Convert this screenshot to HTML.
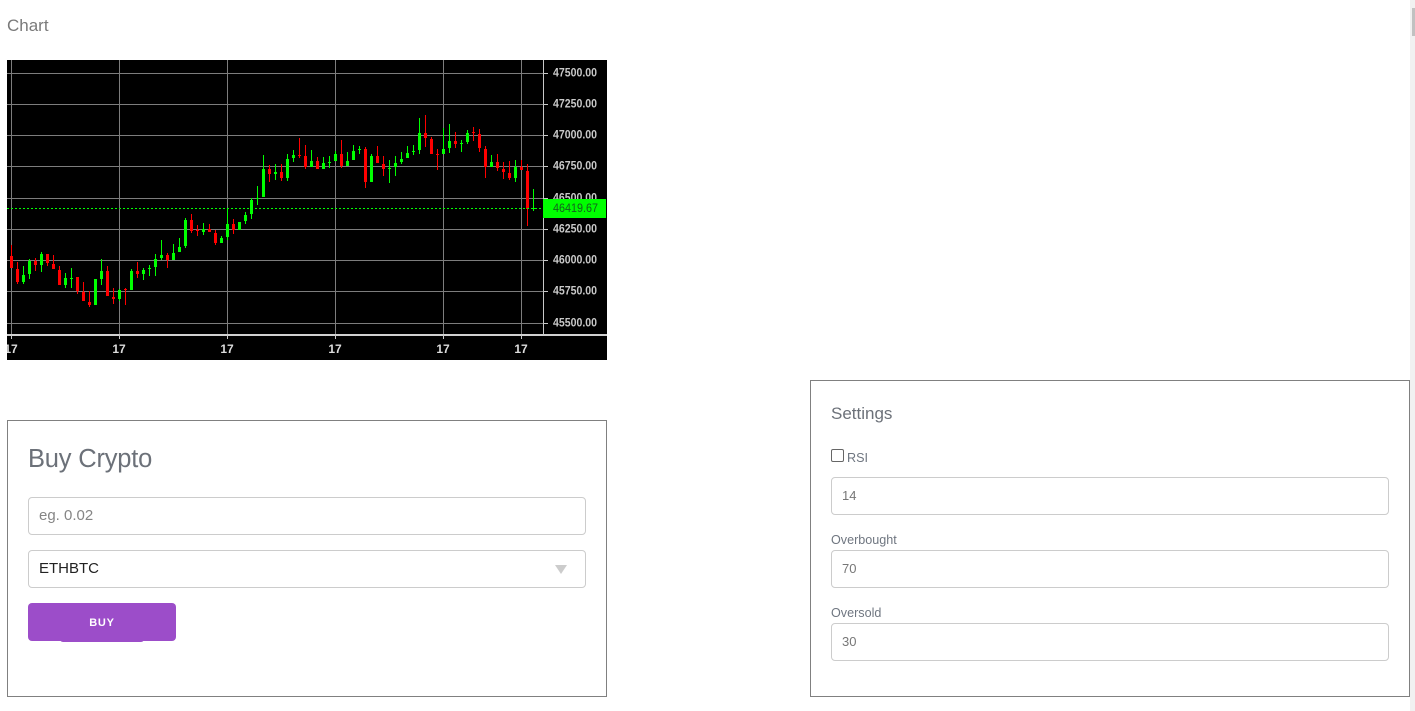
<!DOCTYPE html>
<html lang="en">
<head>
<meta charset="utf-8">
<title>Chart</title>
<style>
html,body{margin:0;padding:0;width:1415px;height:711px;overflow:hidden;background:#fff;font-family:"Liberation Sans",sans-serif;}
.abs{position:absolute;}
.box{position:absolute;border:1px solid #808080;box-sizing:border-box;background:#fff;}
.field{position:absolute;box-sizing:border-box;height:38px;border:1px solid #ccc;border-radius:4px;background:#fff;font-family:"Liberation Sans",sans-serif;font-size:13px;color:#777;padding:0 10px 2px 10px;outline:none;margin:0;}
.field::placeholder{color:#858585;opacity:1;}
.lbl{position:absolute;font-size:12.6px;color:#6f7680;white-space:nowrap;line-height:14px;}
svg text{font-family:"Liberation Sans",sans-serif;}
</style>
</head>
<body>
<div class="abs" style="left:7px;top:15px;font-size:17px;line-height:21px;color:#7a7a7a;">Chart</div>

<svg id="chart" class="abs" style="left:7px;top:60px;" width="600" height="300" viewBox="7 60 600 300" xmlns="http://www.w3.org/2000/svg">
  <rect x="7" y="60" width="600" height="300" fill="#000"/>
  <g id="grid"></g>
  <g id="candles"></g>
  <g id="axes"></g>
</svg>

<div class="box" style="left:7px;top:420px;width:600px;height:277px;"></div>
<div class="abs" style="left:28px;top:443px;font-size:25.5px;line-height:32px;color:#6c7179;letter-spacing:-0.2px;">Buy Crypto</div>
<input class="field" style="left:28px;top:497px;width:558px;font-size:15px;padding-bottom:1px;" placeholder="eg. 0.02">
<div class="field" style="left:28px;top:550px;width:558px;font-size:15px;line-height:35px;color:#222;">ETHBTC</div>
<div class="abs" style="left:555px;top:565px;width:0;height:0;border-left:6.5px solid transparent;border-right:6.5px solid transparent;border-top:9px solid #ccc;"></div>
<div class="abs" style="left:60px;top:636px;width:84px;height:6px;background:#9c4dc9;border-radius:0 0 3px 3px;"></div>
<div class="abs" style="left:28px;top:603px;width:148px;height:38px;background:#9c4dc9;border-radius:4px;color:#fff;font-size:11px;font-weight:bold;letter-spacing:0.8px;text-align:center;line-height:41px;">BUY</div>

<div class="box" style="left:810px;top:380px;width:600px;height:317px;"></div>
<div class="abs" style="left:831px;top:403px;font-size:17px;line-height:21px;color:#6c7179;">Settings</div>
<div class="abs" style="left:831px;top:449px;width:13px;height:13px;box-sizing:border-box;border:1px solid #666;border-radius:2px;background:#fff;"></div>
<div class="lbl" style="left:847px;top:451px;">RSI</div>
<input class="field" style="left:831px;top:477px;width:558px;" value="14">
<div class="lbl" style="left:831px;top:533px;">Overbought</div>
<input class="field" style="left:831px;top:550px;width:558px;" value="70">
<div class="lbl" style="left:831px;top:606px;">Oversold</div>
<input class="field" style="left:831px;top:623px;width:558px;" value="30">

<div class="abs" style="left:1410px;top:0;width:5px;height:711px;background:#f1f1f1;"></div>
<div class="abs" style="left:1412px;top:8px;width:3px;height:28px;background:#c1c1c1;"></div>

<script>
const opens = [46032,45928,45824,45888,45992,45960,46048,45968,45920,45800,45848,45864,45744,45664,45640,45848,45912,45704,45688,45768,45760,45912,45888,45928,45944,46016,46040,46000,46064,46112,46320,46240,46224,46248,46216,46136,46184,46288,46240,46312,46368,46488,46504,46728,46688,46704,46656,46816,46840,46832,46744,46792,46728,46776,46792,46848,46752,46800,46880,46888,46624,46832,46768,46728,46744,46784,46816,46864,46880,47016,46968,46848,46848,46896,46952,46928,46944,47024,47008,46888,46744,46784,46728,46696,46656,46744,46712,46416];
const highs = [46120,45984,45952,46008,46016,46064,46048,46040,45952,45896,45936,45864,45824,45752,45848,46008,45952,45776,45768,45776,45928,45984,45936,45960,46048,46160,46056,46128,46176,46336,46368,46280,46296,46288,46240,46192,46416,46328,46304,46384,46496,46592,46840,46760,46768,46768,46848,46880,46976,46920,46880,46824,46824,46832,46872,46960,46864,46920,46912,46904,46848,46912,46832,46800,46832,46864,46912,46920,47136,47160,46984,46888,47056,47088,47024,46960,47040,47064,47048,46912,46840,46848,46784,46792,46800,46800,46768,46568];
const lows = [45936,45808,45808,45848,45912,45904,45952,45928,45800,45776,45776,45728,45672,45624,45640,45800,45712,45648,45672,45640,45760,45856,45840,45872,45872,46000,45936,46000,46064,46096,46216,46192,46200,46224,46120,46136,46160,46208,46240,46288,46328,46440,46504,46624,46640,46632,46632,46784,46816,46728,46744,46728,46728,46736,46792,46736,46752,46800,46848,46576,46624,46776,46672,46616,46672,46768,46816,46840,46848,46904,46848,46720,46848,46856,46896,46864,46928,46952,46864,46656,46744,46712,46648,46640,46624,46720,46272,46392];
const closes = [45936,45824,45880,45992,45960,46048,45976,45928,45800,45856,45856,45752,45672,45640,45848,45912,45712,45688,45760,45760,45912,45888,45920,45936,46008,46040,46000,46056,46104,46320,46232,46232,46248,46224,46136,46176,46288,46240,46304,46360,46480,46496,46728,46688,46704,46656,46808,46840,46832,46744,46792,46728,46776,46784,46848,46752,46792,46872,46888,46624,46832,46776,46728,46736,46776,46808,46856,46872,47016,46976,46848,46840,46888,46952,46928,46936,47016,47016,46896,46744,46784,46736,46704,46656,46744,46720,46408,46419.67];
const priceTicks = [47500,47250,47000,46750,46500,46250,46000,45750,45500];
const timeTickIndexes = [0,18,36,54,72,85];
const timeTickLabels = ["17","17","17","17","17","17"];
const lastPrice = 46419.67;

const NS = "http://www.w3.org/2000/svg";
const gridColor = "#7d7d7d";
const upColor = "#00ff00";
const downColor = "#ff0000";
function yScale(v){ return 260 - (v - 46000) / 8; }
function xScale(i){ return 11 + 6 * i; }
function make(tag, attrs, parent){
  const el = document.createElementNS(NS, tag);
  for (const k in attrs) el.setAttribute(k, attrs[k]);
  parent.appendChild(el);
  return el;
}
const grid = document.getElementById("grid");
const candles = document.getElementById("candles");
const axes = document.getElementById("axes");

priceTicks.forEach(function(t){
  const y = Math.round(yScale(t));
  const g = make("rect", {x:7, y:y, width:536, height:1, fill:gridColor}, grid);
  
  
});
timeTickIndexes.forEach(function(i){
  const g = make("rect", {x:xScale(i), y:60, width:1, height:275, fill:gridColor}, grid);
  
  
});

opens.forEach(function(o, i){
  const c = closes[i];
  const col = c >= o ? upColor : downColor;
  const g = make("g", {}, candles);
  
  
  const yh = Math.round(yScale(highs[i]));
  const yl = Math.round(yScale(lows[i]));
  const yt = Math.round(yScale(Math.max(o, c)));
  const yb = Math.round(yScale(Math.min(o, c)));
  make("rect", {x:xScale(i), y:yh, width:1, height:Math.max(1, yl - yh), fill:col}, g);
  make("rect", {x:xScale(i) - 1, y:yt, width:3, height:Math.max(1, yb - yt), fill:col}, g);
});

const yLast = Math.round(yScale(lastPrice));
const dash = make("line", {x1:7, x2:543, y1:yLast + 0.5, y2:yLast + 0.5, stroke:upColor, "stroke-width":1, "stroke-dasharray":"2 2"}, axes);



const yAxisLine = make("rect", {x:543, y:60, width:1, height:275, fill:"#c8c8c8"}, axes);


const xAxisLine = make("rect", {x:7, y:334, width:600, height:2, fill:"#d0d0d0"}, axes);



priceTicks.forEach(function(t){
  const y = Math.round(yScale(t));
  const m = make("rect", {x:543, y:y, width:5, height:1, fill:"#c8c8c8"}, axes);
  
  
  const lab = make("text", {x:553, y:y + 3.5, fill:"#c8c8c8", "font-size":"11.5", "font-weight":"bold", textLength:"44", lengthAdjust:"spacingAndGlyphs"}, axes);
  lab.textContent = t.toFixed(2);
  
  
});
timeTickIndexes.forEach(function(i, n){
  const m = make("rect", {x:xScale(i), y:335, width:1, height:4, fill:"#c8c8c8"}, axes);
  
  
  const lab = make("text", {x:xScale(i), y:353, fill:"#dcdcdc", "font-size":"12", "font-weight":"bold", "text-anchor":"middle"}, axes);
  lab.textContent = timeTickLabels[n];
  
  
});

const tag = make("rect", {x:543, y:199, width:63, height:19, fill:upColor}, axes);


const tagText = make("text", {x:553, y:212, fill:"#14601e", "font-size":"11.5", "font-weight":"normal", textLength:"45", lengthAdjust:"spacingAndGlyphs"}, axes);
tagText.textContent = lastPrice.toFixed(2);


</script>
</body>
</html>
